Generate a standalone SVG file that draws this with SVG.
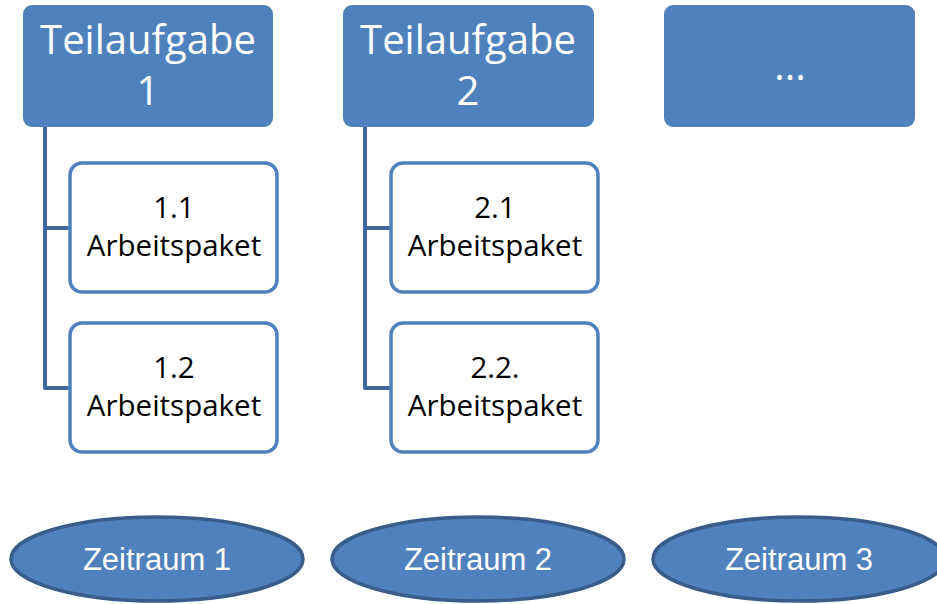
<svg xmlns="http://www.w3.org/2000/svg" width="937" height="604" viewBox="0 0 937 604">
  <style>
    .task { fill: #4f81bd; }
    .task-text { fill: #ffffff; font-family: "Open Sans", "Noto Sans", sans-serif; font-size: 40px; text-anchor: middle; }
    .pkg { fill: #ffffff; stroke: #4f81bd; stroke-width: 3.5; }
    .pkg-text { fill: #000000; font-family: "Open Sans", "Noto Sans", sans-serif; font-size: 29.5px; text-anchor: middle; }
    .period { fill: #4f81bd; stroke: #385d8a; stroke-width: 3.5; }
    .period-text { fill: #ffffff; font-family: "Liberation Sans", Arial, sans-serif; font-size: 31px; text-anchor: middle; }
    .link { fill: none; stroke: #41689c; stroke-width: 4; stroke-linejoin: round; }
  </style>

  <rect width="937" height="604" fill="#ffffff"/>

  <!-- hierarchy connectors -->
  <g id="connectors">
    <path class="link" d="M45 127 V388 H70 M45 228 H70"/>
    <path class="link" d="M365 127 V388 H391 M365 228 H391"/>
  </g>

  <!-- task headers -->
  <g id="task1">
    <rect class="task" x="23" y="5" width="250" height="122" rx="9"/>
    <text class="task-text" x="148" y="54">Teilaufgabe</text>
    <text class="task-text" x="148" y="105">1</text>
  </g>
  <g id="task2">
    <rect class="task" x="343" y="5" width="251" height="122" rx="9"/>
    <text class="task-text" x="468" y="54">Teilaufgabe</text>
    <text class="task-text" x="468" y="105">2</text>
  </g>
  <g id="task3">
    <rect class="task" x="664" y="5" width="251" height="122" rx="9"/>
    <text class="task-text" x="790" y="80">...</text>
  </g>

  <!-- work packages -->
  <g id="pkg11">
    <rect class="pkg" x="70" y="163" width="207" height="129" rx="12"/>
    <text class="pkg-text" x="174" y="218">1.1</text>
    <text class="pkg-text" x="174" y="256">Arbeitspaket</text>
  </g>
  <g id="pkg12">
    <rect class="pkg" x="70" y="323" width="207" height="129" rx="12"/>
    <text class="pkg-text" x="174" y="378">1.2</text>
    <text class="pkg-text" x="174" y="416">Arbeitspaket</text>
  </g>
  <g id="pkg21">
    <rect class="pkg" x="391" y="163" width="207" height="129" rx="12"/>
    <text class="pkg-text" x="495" y="218">2.1</text>
    <text class="pkg-text" x="495" y="256">Arbeitspaket</text>
  </g>
  <g id="pkg22">
    <rect class="pkg" x="391" y="323" width="207" height="129" rx="12"/>
    <text class="pkg-text" x="495" y="378">2.2.</text>
    <text class="pkg-text" x="495" y="416">Arbeitspaket</text>
  </g>

  <!-- time periods -->
  <g id="period1">
    <ellipse class="period" cx="157" cy="559" rx="146" ry="42"/>
    <text class="period-text" x="157" y="570">Zeitraum 1</text>
  </g>
  <g id="period2">
    <ellipse class="period" cx="478" cy="559" rx="146" ry="42"/>
    <text class="period-text" x="478" y="570">Zeitraum 2</text>
  </g>
  <g id="period3">
    <ellipse class="period" cx="799" cy="559" rx="146" ry="42"/>
    <text class="period-text" x="799" y="570">Zeitraum 3</text>
  </g>
</svg>
